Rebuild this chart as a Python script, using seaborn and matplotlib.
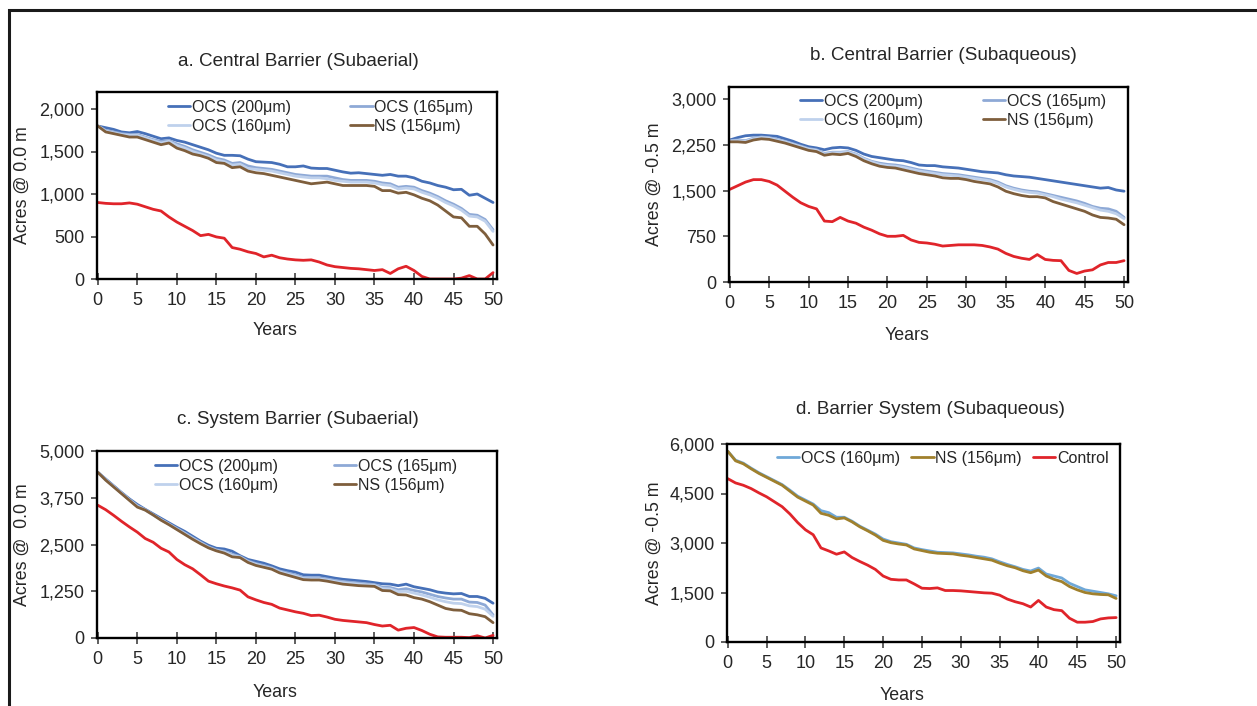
import numpy as np
import pandas as pd
import matplotlib
matplotlib.use("Agg")
import matplotlib.pyplot as plt
import seaborn as sns
from matplotlib.lines import Line2D
from matplotlib.patches import Rectangle
from matplotlib.ticker import FuncFormatter, FixedLocator

# ---------------- data ----------------
years = list(range(0, 51))

a_ocs200 = [1800,1780,1760,1730,1720,1735,1710,1680,1650,1660,
            1630,1610,1580,1550,1520,1480,1455,1455,1450,1410,
            1380,1375,1370,1350,1320,1320,1330,1305,1300,1300,
            1280,1260,1245,1250,1240,1230,1220,1230,1210,1210,
            1190,1150,1130,1100,1080,1050,1055,985,1000,950,
            900]
a_ocs165 = [1800,1750,1730,1710,1700,1700,1670,1640,1620,1630,
            1590,1560,1520,1490,1460,1420,1400,1360,1370,1330,
            1310,1300,1290,1270,1250,1230,1220,1210,1210,1210,
            1190,1170,1160,1160,1160,1150,1130,1120,1080,1090,
            1080,1040,1010,970,920,880,830,760,750,700,
            580]
a_ocs160 = [1800,1740,1720,1700,1690,1690,1660,1630,1600,1620,
            1570,1540,1500,1470,1440,1400,1380,1340,1350,1300,
            1290,1280,1270,1250,1230,1210,1200,1190,1190,1180,
            1160,1150,1140,1140,1140,1130,1110,1100,1060,1070,
            1060,1020,990,950,900,860,810,740,730,680,
            560]
a_ns156 = [1800,1730,1710,1690,1670,1670,1640,1610,1580,1600,
           1540,1510,1470,1450,1420,1370,1360,1310,1320,1270,
           1250,1240,1220,1200,1180,1160,1140,1120,1130,1140,
           1120,1100,1100,1100,1100,1090,1040,1040,1010,1020,
           990,950,920,870,800,730,720,620,620,530,
           400]
a_control = [900,890,885,885,895,880,850,820,800,730,
             670,620,570,510,525,495,480,370,350,320,
             300,260,280,250,235,225,220,225,200,165,
             145,135,125,120,110,100,110,65,120,150,
             100,30,0,0,0,0,10,40,0,0,
             75]

b_ocs200 = [2330,2370,2400,2410,2410,2400,2390,2350,2310,2260,
            2220,2200,2170,2200,2210,2200,2160,2100,2060,2040,
            2020,2000,1990,1960,1920,1910,1910,1890,1880,1870,
            1850,1830,1810,1800,1790,1760,1740,1730,1720,1700,
            1680,1660,1640,1620,1600,1580,1560,1540,1550,1510,
            1490]
b_ocs165 = [2320,2330,2320,2360,2380,2370,2340,2310,2270,2230,
            2190,2170,2110,2130,2130,2140,2100,2030,1980,1950,
            1930,1920,1900,1870,1840,1820,1800,1780,1770,1760,
            1740,1720,1700,1680,1640,1580,1540,1510,1490,1480,
            1450,1420,1390,1360,1330,1290,1240,1210,1200,1160,
            1060]
b_ocs160 = [2310,2320,2310,2350,2370,2360,2330,2300,2260,2220,
            2180,2160,2100,2120,2120,2130,2090,2020,1970,1930,
            1910,1900,1880,1850,1820,1800,1780,1760,1750,1740,
            1720,1700,1680,1660,1620,1560,1520,1490,1470,1460,
            1430,1400,1360,1330,1300,1260,1220,1180,1160,1120,
            1040]
b_ns156 = [2300,2300,2290,2330,2350,2340,2310,2280,2240,2200,
           2160,2140,2080,2100,2090,2110,2060,1990,1940,1900,
           1880,1870,1840,1810,1780,1760,1740,1710,1700,1700,
           1680,1650,1630,1610,1560,1490,1450,1420,1400,1400,
           1380,1320,1280,1240,1200,1160,1100,1060,1050,1030,
           940]
b_control = [1520,1580,1640,1680,1680,1650,1590,1490,1390,1300,
             1240,1200,1000,990,1060,1000,965,900,850,790,
             750,750,765,690,650,640,620,590,600,610,
             610,610,600,575,540,470,420,390,370,450,
             370,355,350,190,140,180,200,280,320,320,
             350]

c_ocs200 = [4430,4250,4070,3890,3720,3570,3440,3320,3200,3080,
            2960,2850,2720,2590,2480,2400,2380,2320,2200,2100,
            2050,2000,1930,1850,1800,1760,1690,1680,1680,1640,
            1600,1570,1550,1530,1510,1480,1450,1440,1400,1440,
            1370,1330,1290,1230,1200,1180,1190,1110,1110,1060,
            930]
c_ocs165 = [4430,4240,4060,3880,3700,3540,3430,3300,3170,3050,
            2930,2810,2680,2560,2440,2360,2320,2240,2180,2060,
            1990,1940,1880,1790,1740,1690,1620,1610,1610,1580,
            1540,1510,1490,1470,1450,1430,1360,1350,1290,1320,
            1270,1230,1170,1110,1070,1040,1040,960,950,880,
            620]
c_ocs160 = [4430,4230,4050,3870,3690,3520,3420,3290,3160,3040,
            2910,2790,2660,2540,2420,2340,2300,2210,2160,2040,
            1970,1910,1860,1770,1710,1660,1590,1580,1580,1550,
            1510,1480,1460,1440,1420,1410,1320,1310,1240,1250,
            1200,1150,1090,1020,970,930,920,860,840,770,
            580]
c_ns156 = [4430,4220,4040,3860,3680,3500,3420,3290,3150,3030,
           2900,2770,2640,2520,2410,2330,2270,2170,2150,2020,
           1940,1890,1840,1740,1680,1620,1560,1550,1550,1520,
           1480,1440,1420,1400,1390,1380,1270,1260,1160,1150,
           1080,1040,970,880,790,750,740,650,620,570,
           410]
c_control = [3550,3430,3280,3120,2970,2830,2660,2560,2400,2300,
             2100,1960,1850,1690,1520,1450,1390,1340,1280,1100,
             1020,950,900,800,750,700,660,600,610,560,
             500,470,450,430,410,360,320,340,210,260,
             280,200,100,30,20,20,20,10,60,0,
             70]

d_ocs160 = [5780,5510,5420,5270,5130,5010,4890,4770,4600,4420,
            4300,4180,3980,3920,3780,3780,3660,3510,3390,3270,
            3120,3040,3000,2960,2850,2800,2760,2720,2710,2700,
            2670,2640,2600,2570,2520,2430,2350,2280,2200,2150,
            2240,2060,2000,1940,1780,1680,1580,1540,1500,1460,
            1400]
d_ns156 = [5780,5490,5400,5250,5110,4990,4870,4750,4570,4390,
           4270,4150,3900,3840,3730,3760,3640,3490,3370,3240,
           3080,3010,2970,2940,2820,2770,2720,2690,2680,2670,
           2630,2600,2560,2520,2480,2390,2310,2250,2160,2100,
           2180,2000,1900,1830,1680,1580,1500,1460,1440,1430,
           1320]
d_control = [4950,4820,4750,4650,4520,4400,4250,4100,3880,3620,
             3400,3250,2850,2760,2660,2730,2560,2440,2330,2200,
             2000,1900,1880,1880,1760,1630,1620,1640,1560,1560,
             1550,1530,1510,1490,1480,1420,1300,1220,1160,1060,
             1260,1060,980,950,720,600,600,620,700,730,
             740]

titles = ["a. Central Barrier (Subaerial)", "b. Central Barrier (Subaqueous)",
          "c. System Barrier (Subaerial)", "d. Barrier System (Subaqueous)"]
ylabels = ["Acres @ 0.0 m", "Acres @ -0.5 m", "Acres @  0.0 m", "Acres @ -0.5 m"]
yticks_a = [0, 500, 1000, 1500, 2000]
yticks_b = [0, 750, 1500, 2250, 3000]
yticks_c = [0, 1250, 2500, 3750, 5000]
yticks_d = [0, 1500, 3000, 4500, 6000]
xticks = [0, 5, 10, 15, 20, 25, 30, 35, 40, 45, 50]

lab200, lab165, lab160, labNS, labCtrl = "OCS (200μm)", "OCS (165μm)", "OCS (160μm)", "NS (156μm)", "Control"

# ---------------- style ----------------
sns.set_theme(style="white")
plt.rcParams['font.family'] = ['Liberation Sans', 'DejaVu Sans']
TXT = '#262626'

C200, C165, C160, CNS, CCTRL = '#4670B8', '#8EA9D6', '#BFD1EC', '#7E5E3C', '#E0242A'
C160D, CNSD = '#6FA8D8', '#A0802C'

W, H = 1257, 706
fig = plt.figure(figsize=(W / 100, H / 100), dpi=100)
fig.patch.set_facecolor('white')

def rect(l, r, t, b):
    return [l / W, 1 - b / H, (r - l) / W, (b - t) / H]

panels = [
    dict(box=(97, 497, 92, 279), title_xy=(298, 62), ylim=2200, yt=yticks_a,
         series=[(lab200, a_ocs200, C200), (lab165, a_ocs165, C165), (lab160, a_ocs160, C160),
                 (labNS, a_ns156, CNS), (None, a_control, CCTRL)],
         leg_order=[lab200, lab160, lab165, labNS], ncol=2, leg_xy=(0.1775, 0.957), colsp=3.7,
         ylab_x=-0.165, xlab_y=-0.273),
    dict(box=(729, 1128, 87, 282), title_xy=(943, 55), ylim=3200, yt=yticks_b,
         series=[(lab200, b_ocs200, C200), (lab165, b_ocs165, C165), (lab160, b_ocs160, C160),
                 (labNS, b_ns156, CNS), (None, b_control, CCTRL)],
         leg_order=[lab200, lab160, lab165, labNS], ncol=2, leg_xy=(0.178, 0.964), colsp=3.75,
         ylab_x=-0.165, xlab_y=-0.272),
    dict(box=(97, 497, 451, 638), title_xy=(298, 419), ylim=5000, yt=yticks_c,
         series=[(lab200, c_ocs200, C200), (lab165, c_ocs165, C165), (lab160, c_ocs160, C160),
                 (labNS, c_ns156, CNS), (None, c_control, CCTRL)],
         leg_order=[lab200, lab160, lab165, labNS], ncol=2, leg_xy=(0.145, 0.957), colsp=3.5,
         ylab_x=-0.165, xlab_y=-0.289),
    dict(box=(727, 1120, 444, 642), title_xy=(930, 410), ylim=6000, yt=yticks_d,
         series=[(lab160, d_ocs160, C160D), (labNS, d_ns156, CNSD), (labCtrl, d_control, CCTRL)],
         leg_order=[lab160, labNS, labCtrl], ncol=3, leg_xy=(0.127, 0.965), colsp=0.7,
         ylab_x=-0.163, xlab_y=-0.268),
]

fmt = FuncFormatter(lambda v, p: f"{int(v):,}")

for i, p in enumerate(panels):
    ax = fig.add_axes(rect(*p['box']))
    ax.set_facecolor('white')
    handles = {}
    for lab, vals, col in p['series']:
        df = pd.DataFrame({'Year': years, 'Acres': vals})
        sns.lineplot(data=df, x='Year', y='Acres', ax=ax, color=col, linewidth=2.0,
                     legend=False)
        if lab is not None:
            handles[lab] = Line2D([], [], color=col, linewidth=2.0)
    ax.set_xlim(-0.1, 50.5)
    ax.set_ylim(0, p['ylim'])
    ax.xaxis.set_major_locator(FixedLocator(xticks))
    ax.yaxis.set_major_locator(FixedLocator(p['yt']))
    ax.yaxis.set_major_formatter(fmt)
    for s in ax.spines.values():
        s.set_visible(True)
        s.set_color('black')
        s.set_linewidth(1.7)
    ax.tick_params(axis='x', bottom=True, direction='inout', length=8, width=1.1,
                   color='#333333', labelsize=13, labelcolor=TXT, pad=5.5)
    ax.tick_params(axis='y', left=True, direction='out', length=4, width=1.1,
                   color='#333333', labelsize=13, labelcolor=TXT, pad=5)
    ax.set_ylabel(ylabels[i], fontsize=12.8, color=TXT)
    ax.yaxis.set_label_coords(p['ylab_x'], 0.5)
    ax.set_xlabel('Years', fontsize=12.8, color=TXT, va='center')
    ax.xaxis.set_label_coords(0.445, p['xlab_y'])
    ax.grid(False)
    leg = ax.legend([handles[k] for k in p['leg_order']], p['leg_order'],
                    ncol=p['ncol'], loc='upper left', bbox_to_anchor=p['leg_xy'],
                    frameon=False, fontsize=11.5, handlelength=1.4, handletextpad=0.1,
                    columnspacing=p['colsp'], labelspacing=0.25, borderpad=0,
                    borderaxespad=0)
    for t in leg.get_texts():
        t.set_color(TXT)
    fig.text(p['title_xy'][0] / W, 1 - p['title_xy'][1] / H, titles[i],
             ha='center', va='center', fontsize=13.6, color=TXT)

# outer frame (left and top edges visible)
fig.add_artist(Rectangle((8.5 / W, -0.5), 2, 1.5 - 9.5 / H, fill=False, lw=2.2,
                         ec='#1a1a1a', transform=fig.transFigure, clip_on=False))

fig.savefig('out.png', dpi=100, facecolor='white')
